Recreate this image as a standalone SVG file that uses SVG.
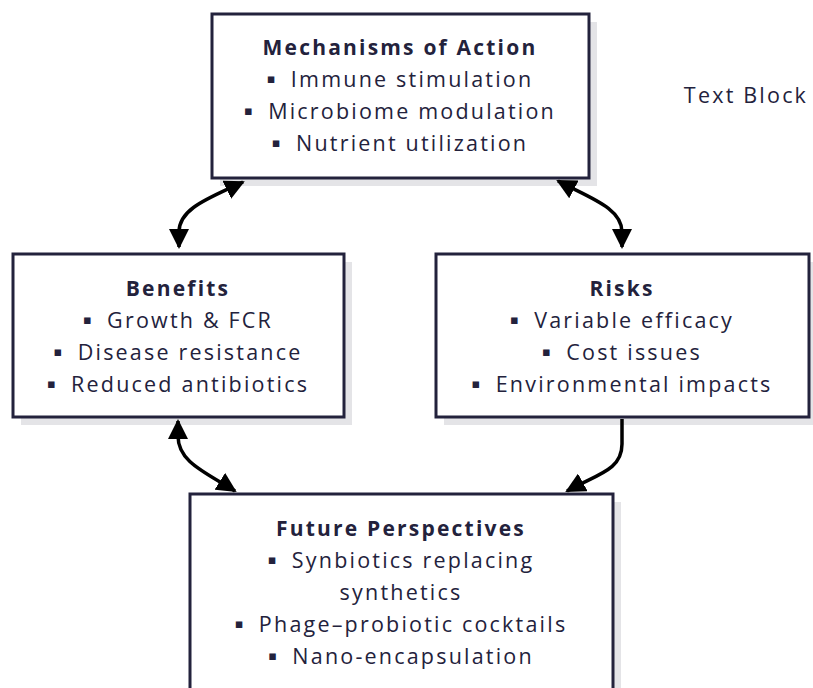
<svg xmlns="http://www.w3.org/2000/svg" width="813" height="688" viewBox="0 0 813 688">
  <style>
    .box { fill: #ffffff; stroke: #23223c; stroke-width: 3; }
    .shadow { fill: #e4e4e7; }
    .title { font-family: "Open Sans", "Noto Sans", "DejaVu Sans", sans-serif; font-size: 21px; font-weight: 700; fill: #23223c; text-anchor: middle; letter-spacing: 2.2px; }
    .item { font-family: "Open Sans", "Noto Sans", "DejaVu Sans", sans-serif; font-size: 21.5px; fill: #23223c; text-anchor: middle; letter-spacing: 2.2px; }
    .dot { font-size: 13px; letter-spacing: 6px; }
    .link { fill: none; stroke: #000000; stroke-width: 3.5; }
  </style>
  <defs>
    <marker id="arrow" viewBox="0 0 20 20" refX="18" refY="10" markerWidth="20" markerHeight="20" markerUnits="userSpaceOnUse" orient="auto-start-reverse">
      <path d="M0,0 L20,10 L0,20 Z" fill="#000000"/>
    </marker>
  </defs>

  <rect width="813" height="688" fill="#ffffff"/>

  <g id="mechanisms">
    <rect class="shadow" x="220" y="22" width="377" height="164"/>
    <rect class="box" x="212" y="14" width="377" height="164"/>
    <text class="title" x="400" y="55">Mechanisms of Action</text>
    <text class="item" x="400" y="87"><tspan class="dot" baseline-shift="4">▪ </tspan>Immune stimulation</text>
    <text class="item" x="400" y="119"><tspan class="dot" baseline-shift="4">▪ </tspan>Microbiome modulation</text>
    <text class="item" x="400" y="151"><tspan class="dot" baseline-shift="4">▪ </tspan>Nutrient utilization</text>
  </g>

  <g id="benefits">
    <rect class="shadow" x="21" y="262" width="331" height="163"/>
    <rect class="box" x="13" y="254" width="331" height="163"/>
    <text class="title" x="178" y="296">Benefits</text>
    <text class="item" x="178" y="328"><tspan class="dot" baseline-shift="4">▪ </tspan>Growth &amp; FCR</text>
    <text class="item" x="178" y="360"><tspan class="dot" baseline-shift="4">▪ </tspan>Disease resistance</text>
    <text class="item" x="178" y="392"><tspan class="dot" baseline-shift="4">▪ </tspan>Reduced antibiotics</text>
  </g>

  <g id="risks">
    <rect class="shadow" x="444" y="262" width="374" height="163"/>
    <rect class="box" x="436" y="254" width="373" height="163"/>
    <text class="title" x="622" y="296">Risks</text>
    <text class="item" x="622" y="328"><tspan class="dot" baseline-shift="4">▪ </tspan>Variable efficacy</text>
    <text class="item" x="622" y="360"><tspan class="dot" baseline-shift="4">▪ </tspan>Cost issues</text>
    <text class="item" x="622" y="392"><tspan class="dot" baseline-shift="4">▪ </tspan>Environmental impacts</text>
  </g>

  <g id="future">
    <rect class="shadow" x="198" y="502" width="423" height="200"/>
    <rect class="box" x="190" y="494" width="423" height="210"/>
    <text class="title" x="401" y="536">Future Perspectives</text>
    <text class="item" x="401" y="568"><tspan class="dot" baseline-shift="4">▪ </tspan>Synbiotics replacing</text>
    <text class="item" x="401" y="600">synthetics</text>
    <text class="item" x="401" y="632"><tspan class="dot" baseline-shift="4">▪ </tspan>Phage–probiotic cocktails</text>
    <text class="item" x="401" y="664"><tspan class="dot" baseline-shift="4">▪ </tspan>Nano-encapsulation</text>
  </g>

  <g id="text-block">
    <text class="item" x="746" y="103">Text Block</text>
  </g>

  <g id="connectors">
    <path class="link" d="M179,247 L179,232 C179,208 210,198 243,182" marker-start="url(#arrow)" marker-end="url(#arrow)"/>
    <path class="link" d="M622,247 L622,232 C622,208 590,198 558,181" marker-start="url(#arrow)" marker-end="url(#arrow)"/>
    <path class="link" d="M178,421 L178,436 C178,462 205,472 235,491" marker-start="url(#arrow)" marker-end="url(#arrow)"/>
    <path class="link" d="M622,419 L622,444 C622,470 598,474 567,491" marker-end="url(#arrow)"/>
  </g>
</svg>
